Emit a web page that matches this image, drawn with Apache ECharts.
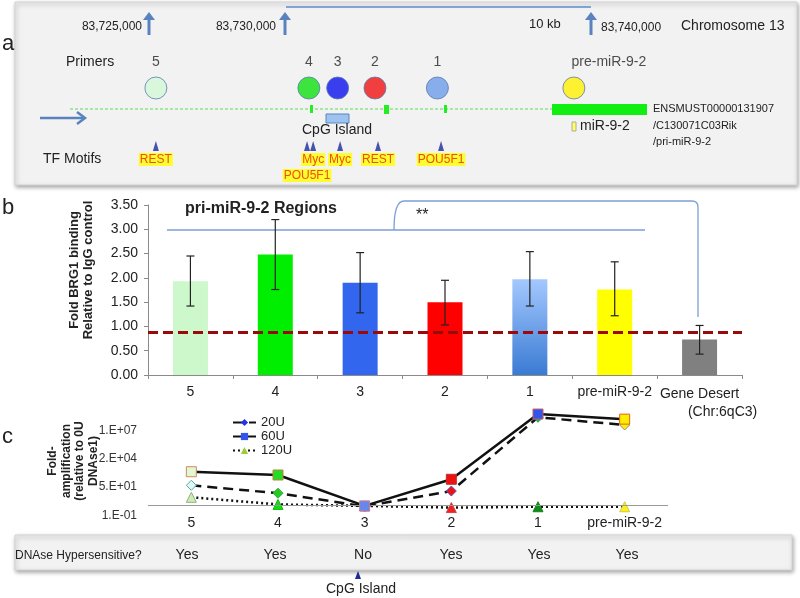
<!DOCTYPE html>
<html><head><meta charset="utf-8">
<script src="https://cdn.jsdelivr.net/npm/echarts@6/dist/echarts.min.js"></script>
<style>html,body{margin:0;padding:0;background:#fff}#c{width:800px;height:598px}</style>
</head><body><div id="c"></div>
<script>
const FONT = '"Liberation Sans", Arial, Helvetica, sans-serif';

// ---------- Panel a: primer & motif positions (kb on chromosome 13) ----------
const primerNames = ['5', '4', '3', '2', '1', 'pre-miR-9-2'];
const primerPosKb = [83725.78, 83730.78, 83731.72, 83732.94, 83734.98, 83739.44];
const primerColors = ['#d2f8d6', '#10e010', '#0a10ee', '#f01010', '#6c9ce8', '#fff000'];
const motifNames = ['REST', 'POU5F1', 'Myc', 'Myc', 'REST', 'POU5F1'];
const motifPosKb = [83725.78, 83730.72, 83730.92, 83731.80, 83733.04, 83735.10];

// ---------- Panel b: BRG1 ChIP ----------
const regions = ['5', '4', '3', '2', '1', 'pre-miR-9-2', 'Gene Desert'];
const brg1Fold = [1.93, 2.48, 1.90, 1.50, 1.97, 1.76, 0.73];
const brg1ErrLow = [1.42, 1.76, 1.28, 1.03, 1.42, 1.22, 0.43];
const brg1ErrHigh = [2.45, 3.20, 2.52, 1.95, 2.54, 2.33, 1.02];
const igGLevel = 0.88;

// ---------- Panel c: DNase sensitivity ----------
const dnaseRegions = ['5', '4', '3', '2', '1', 'pre-miR-9-2'];
const u20 = [74, 13, 0.72, 21, 2.4e8, 4.4e7];
const u60 = [1480, 720, 0.8, 280, 4.9e8, 1.6e8];
const u120 = [5.3, 1.1, 0.8, 0.55, 0.66, 0.66];
const cTickValues = [0.1, 50, 25000, 12500000];
const cTickLabels = ['1.E-01', '5.E+01', '2.E+04', '1.E+07'];
const hypersensitive = ['Yes', 'Yes', 'No', 'Yes', 'Yes', 'Yes'];

// ---------- styles ----------
const barColors = ['#cdf8cc', '#00ee00', '#3366ee',
  '#ff0000',
  {type: 'linear', x: 0, y: 0, x2: 0, y2: 1, colorStops: [{offset: 0, color: '#a4c8ff'}, {offset: 1, color: '#3a7bd3'}]},
  '#ffff00', '#808080'];
const pt20 = [['#e2f6f4', '#5aa'], ['#22cc22', '#3a3'], ['#2233dd', '#22d'], ['#ee1111', '#55c'], ['#22aa55', '#2a5'], ['#ffee00', '#88a']];
const pt60 = [['#e3f7d3', '#d08a60'], ['#22dd22', '#c08040'], ['#6688ee', '#d08080'], ['#ee1111', '#c03030'], ['#3355ee', '#c06060'], ['#ffee00', '#e06020']];
const pt120 = [['#c8f0b0', '#9a8'], ['#11dd11', '#1b1'], ['#2233dd', '#22d'], ['#ee2222', '#c44'], ['#118822', '#181'], ['#ffee22', '#cc4']];
const ARROW = '#5a82be';
const BRACKET = {stroke: '#7a9fd6', lineWidth: 1.3, fill: null};

function upArrow(x) {
  return [
    {type: 'line', z: 5, shape: {x1: x, y1: 35, x2: x, y2: 17}, style: {stroke: ARROW, lineWidth: 3}},
    {type: 'polygon', z: 5, shape: {points: [[x - 6, 20], [x, 12], [x + 6, 20]]}, style: {fill: ARROW}}
  ];
}
function txt(text, x, y, size, opts) {
  opts = opts || {};
  return {type: 'text', x: x, y: y, z: 10, rotation: opts.rot || 0,
    style: {text: text, font: (opts.bold ? 'bold ' : '') + size + 'px ' + FONT,
      fill: opts.color || '#222', textAlign: opts.align || 'left', align: opts.align || 'left',
      textVerticalAlign: 'middle', verticalAlign: 'middle', lineHeight: opts.lh}};
}

const chart = echarts.init(document.getElementById('c'), null, {renderer: 'canvas'});

const graphics = [
  // panel boxes
  {type: 'rect', z: 0, shape: {x: 15, y: 2, width: 782, height: 183},
    style: {fill: '#f2f2f2', stroke: '#d4d4d4', lineWidth: 1, shadowBlur: 4, shadowColor: 'rgba(0,0,0,0.35)', shadowOffsetY: 2, shadowOffsetX: 1}},
  {type: 'rect', z: 0, shape: {x: 15, y: 535, width: 777, height: 35},
    style: {fill: '#f2f2f2', stroke: '#d4d4d4', lineWidth: 1, shadowBlur: 4, shadowColor: 'rgba(0,0,0,0.35)', shadowOffsetY: 2, shadowOffsetX: 1}},
  txt('a', 2, 44, 22), txt('b', 2, 208, 22), txt('c', 2, 437, 22),
  // genomic coordinate scale
  ...upArrow(149), ...upArrow(285), ...upArrow(591),
  {type: 'line', z: 5, shape: {x1: 286, y1: 7, x2: 591, y2: 7}, style: {stroke: '#5b8bd0', lineWidth: 1.5}},
  txt('83,725,000', 142, 27, 12, {align: 'right'}),
  txt('83,730,000', 276, 27, 12, {align: 'right'}),
  txt('10 kb', 529, 24, 13),
  txt('83,740,000', 601, 28, 12),
  txt('Chromosome 13', 681, 26, 14),
  txt('Primers', 66, 62, 14),
  // gene track
  {type: 'line', z: 5, shape: {x1: 70, y1: 109, x2: 552, y2: 109}, style: {stroke: '#55dd55', lineWidth: 1, lineDash: [3, 2]}},
  {type: 'rect', z: 6, shape: {x: 310, y: 105, width: 3, height: 8}, style: {fill: '#22ee22'}},
  {type: 'rect', z: 6, shape: {x: 384, y: 105, width: 5, height: 9}, style: {fill: '#22ee22'}},
  {type: 'rect', z: 6, shape: {x: 444, y: 105, width: 3, height: 8}, style: {fill: '#22ee22'}},
  {type: 'rect', z: 6, shape: {x: 552, y: 104, width: 95, height: 11}, style: {fill: '#11ee11'}},
  {type: 'rect', z: 6, shape: {x: 572, y: 122, width: 4, height: 9}, style: {fill: '#ffff66', stroke: '#999', lineWidth: 0.8}},
  txt('miR-9-2', 580, 126, 14),
  txt('ENSMUST00000131907', 653, 109, 11),
  txt('/C130071C03Rik', 653, 126, 11),
  txt('/pri-miR-9-2', 653, 142, 11),
  {type: 'line', z: 5, shape: {x1: 40, y1: 118, x2: 84, y2: 118}, style: {stroke: ARROW, lineWidth: 2.5}},
  {type: 'polyline', z: 5, shape: {points: [[77, 112], [85, 118], [77, 124]]}, style: {stroke: ARROW, lineWidth: 2.5, fill: null}},
  {type: 'rect', z: 6, shape: {x: 326, y: 114, width: 23, height: 9}, style: {fill: '#9dc3f0', stroke: '#5b85c0', lineWidth: 1}},
  txt('CpG Island', 337, 130, 14, {align: 'center'}),
  txt('TF Motifs', 43, 159, 14),
  // panel b annotations
  txt('pri-miR-9-2 Regions', 185, 209, 16, {bold: true}),
  txt('**', 416, 216, 16),
  {type: 'line', z: 5, shape: {x1: 167, y1: 230, x2: 645, y2: 230}, style: BRACKET},
  {type: 'bezierCurve', z: 5, shape: {x1: 394, y1: 230, x2: 404, y2: 201, cpx1: 394, cpy1: 201}, style: BRACKET},
  {type: 'line', z: 5, shape: {x1: 404, y1: 201, x2: 692, y2: 201}, style: BRACKET},
  {type: 'bezierCurve', z: 5, shape: {x1: 692, y1: 201, x2: 698, y2: 207, cpx1: 698, cpy1: 201}, style: BRACKET},
  {type: 'line', z: 5, shape: {x1: 698, y1: 207, x2: 698, y2: 317}, style: BRACKET},
  txt('Fold BRG1 binding\nRelative to IgG control', 81, 270, 13, {bold: true, align: 'center', rot: Math.PI / 2, lh: 14}),
  // panel c annotations
  txt('Fold-\namplification\n(relative to 0U\nDNAse1)', 73, 461, 12, {bold: true, align: 'center', rot: Math.PI / 2, lh: 13.5}),
  txt('DNAse Hypersensitive?', 15, 556, 12),
  {type: 'polygon', z: 6, shape: {points: [[355, 579], [358, 571], [361, 579]]}, style: {fill: '#1a2a9a'}},
  txt('CpG Island', 361, 589, 14, {align: 'center'})
];

function lineData(vals, styles) {
  return vals.map((v, i) => ({value: v, itemStyle: {color: styles[i][0], borderColor: styles[i][1], borderWidth: 1}}));
}

const option = {
  animation: false,
  textStyle: {fontFamily: FONT},
  graphic: graphics,
  grid: [
    {left: 0, right: 0, top: 59, height: 116},
    {left: 148, right: 58, top: 205, bottom: 223},
    {left: 148, right: 132, top: 402.5, bottom: 82.7},
    {left: 143, right: 129, top: 545, height: 2}
  ],
  xAxis: [
    {gridIndex: 0, type: 'value', min: 83720.686, max: 83746.83, show: false},
    {gridIndex: 1, type: 'category', data: regions,
      axisLine: {lineStyle: {color: '#8a8a8a'}}, axisTick: {show: true, length: 4, lineStyle: {color: '#8a8a8a'}},
      axisLabel: {fontSize: 14, color: '#222', margin: 10, interval: 0,
        formatter: v => v === 'Gene Desert' ? '{a|Gene Desert}\n{b|(Chr:6qC3)}' : v,
        rich: {a: {fontSize: 14, color: '#222', lineHeight: 18}, b: {fontSize: 14, color: '#222', lineHeight: 18, padding: [0, 0, 0, 46]}}}},
    {gridIndex: 2, type: 'category', data: dnaseRegions, boundaryGap: true,
      axisLine: {show: false}, axisTick: {show: false},
      axisLabel: {fontSize: 14, color: '#222', margin: 1, interval: 0}},
    {gridIndex: 3, type: 'category', data: hypersensitive.map((h, i) => h + '\u200b'.repeat(i)),
      axisLine: {show: false}, axisTick: {show: false},
      axisLabel: {fontSize: 14, color: '#222', margin: 1, interval: 0}}
  ],
  yAxis: [
    {gridIndex: 0, type: 'category', data: ['motif', 'primer'], show: false},
    {gridIndex: 1, type: 'value', min: 0, max: 3.5, interval: 0.5,
      axisLine: {show: true, lineStyle: {color: '#8a8a8a'}}, axisTick: {show: true, length: 4, lineStyle: {color: '#8a8a8a'}},
      splitLine: {show: false},
      axisLabel: {fontSize: 14, color: '#222', margin: 10, formatter: v => v.toFixed(2)}},
    {gridIndex: 2, type: 'log', logBase: 500, min: 0.1, max: 6.25e9, interval: 1,
      axisLine: {show: false}, axisTick: {show: false}, splitLine: {show: false},
      axisLabel: {fontSize: 12, color: '#333', margin: 11, showMaxLabel: false,
        formatter: v => {
          const i = cTickValues.findIndex(t => Math.abs(Math.log10(v / t)) < 0.02);
          return i >= 0 ? cTickLabels[i] : '';
        }}},
    {gridIndex: 3, type: 'value', show: false}
  ],
  legend: {
    data: ['20U', '60U', '120U'], orient: 'vertical', left: 232, top: 416,
    itemWidth: 23, itemHeight: 9, itemGap: 1, textStyle: {fontSize: 13, color: '#222', lineHeight: 13}, padding: 0
  },
  series: [
    {type: 'scatter', xAxisIndex: 0, yAxisIndex: 0, symbolSize: 22, z: 8,
      itemStyle: {borderColor: '#5c7cae', borderWidth: 1},
      label: {show: true, position: 'top', distance: 7, fontSize: 14, color: '#222',
        formatter: p => primerNames[p.dataIndex]},
      data: primerPosKb.map((p, i) => ({value: [p, 'primer'], itemStyle: {color: primerColors[i]},
        label: i === primerNames.length - 1 ? {offset: [35, 0]} : {}}))},
    {type: 'scatter', xAxisIndex: 0, yAxisIndex: 0, symbol: 'triangle', symbolSize: [6, 10], z: 8,
      itemStyle: {color: '#1a2a9a'},
      label: {show: true, position: 'bottom', distance: 2, fontSize: 12, color: '#ee2200',
        backgroundColor: '#ffff00', padding: [1, 1, 0, 1], formatter: p => motifNames[p.dataIndex]},
      data: motifPosKb.map((p, i) => ({value: [p, 'motif'], label: i === 1 ? {distance: 18} : {}}))},
    {type: 'bar', xAxisIndex: 1, yAxisIndex: 1, barWidth: 35,
      data: brg1Fold.map((v, i) => ({value: v, itemStyle: {color: barColors[i]}})),
      markLine: {silent: true, symbol: 'none', label: {show: false},
        lineStyle: {color: '#9b0a0a', width: 3, type: [10, 5]}, data: [{yAxis: igGLevel}]}},
    {type: 'custom', xAxisIndex: 1, yAxisIndex: 1, z: 5,
      data: regions.map((r, i) => [i, brg1ErrLow[i], brg1ErrHigh[i]]),
      encode: {x: 0, y: [1, 2]},
      renderItem: (params, api) => {
        const lo = api.coord([api.value(0), api.value(1)]);
        const hi = api.coord([api.value(0), api.value(2)]);
        const s = {stroke: '#222', lineWidth: 1.2};
        return {type: 'group', children: [
          {type: 'line', shape: {x1: lo[0], y1: lo[1], x2: hi[0], y2: hi[1]}, style: s},
          {type: 'line', shape: {x1: lo[0] - 4, y1: lo[1], x2: lo[0] + 4, y2: lo[1]}, style: s},
          {type: 'line', shape: {x1: hi[0] - 4, y1: hi[1], x2: hi[0] + 4, y2: hi[1]}, style: s}
        ]};
      }},
    {name: '20U', type: 'line', xAxisIndex: 2, yAxisIndex: 2, symbol: 'diamond', symbolSize: 10, z: 4,
      lineStyle: {color: '#111', width: 2.5, type: [10, 6]},
      itemStyle: {color: '#2233ee', borderColor: '#2233ee'},
      data: lineData(u20, pt20),
      markLine: {silent: true, symbol: 'none', label: {show: false}, animation: false,
        lineStyle: {color: '#999', width: 1, type: 'solid'}, data: [{yAxis: 1}]}},
    {name: '60U', type: 'line', xAxisIndex: 2, yAxisIndex: 2, symbol: 'rect', symbolSize: 10, z: 5,
      lineStyle: {color: '#111', width: 2.5},
      itemStyle: {color: '#3355ee', borderColor: '#d06060'},
      data: lineData(u60, pt60)},
    {name: '120U', type: 'line', xAxisIndex: 2, yAxisIndex: 2, symbol: 'triangle', symbolSize: 10, z: 3,
      lineStyle: {color: '#111', width: 2.5, type: [2, 3]},
      itemStyle: {color: '#9acd32', borderColor: '#9a8'},
      data: lineData(u120, pt120)}
  ]
};
chart.setOption(option);
</script>
</body></html>
